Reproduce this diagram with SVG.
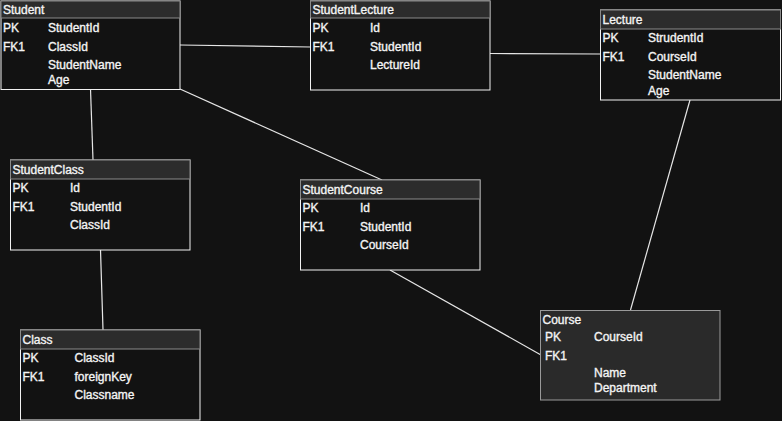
<svg xmlns="http://www.w3.org/2000/svg" width="782" height="421" viewBox="0 0 782 421">
<style>
.body{fill:#121212;stroke:#f2f2f2;stroke-width:1}
.hdr{fill:#2c2c2c;stroke:#8a8a8a;stroke-width:1}
.course{fill:#2a2a2a;stroke:#9a9a9a;stroke-width:1}
text{font-family:"Liberation Sans",Arial,sans-serif;font-size:12px;fill:#f4f4f4;stroke:#f4f4f4;stroke-width:0.35}
.conn line{stroke:#e6e6e6;stroke-width:1.2}
</style>
<rect width="782" height="421" fill="#121212"/>
<g class="conn" id="connectors">
<line x1="180" y1="45" x2="311" y2="47"/>
<line x1="490" y1="53.5" x2="601" y2="54"/>
<line x1="90.5" y1="89" x2="93" y2="160"/>
<line x1="180" y1="89" x2="382" y2="180"/>
<line x1="100.5" y1="250" x2="103" y2="330"/>
<line x1="390" y1="270" x2="541" y2="355"/>
<line x1="690" y1="100" x2="630.5" y2="310"/>
</g>
<g id="Student">
<rect class="body" x="1" y="1" width="179" height="88.5"/>
<rect class="hdr" x="1" y="1" width="179" height="17"/>
<text x="3" y="14">Student</text>
<text x="3" y="32">PK</text><text x="48" y="32">StudentId</text>
<text x="3" y="51">FK1</text><text x="48" y="51">ClassId</text>
<text x="48" y="69">StudentName</text>
<text x="48" y="84">Age</text>
</g>
<g id="StudentLecture">
<rect class="body" x="310.5" y="1" width="179.5" height="89"/>
<rect class="hdr" x="310.5" y="1" width="179.5" height="17"/>
<text x="312.5" y="14">StudentLecture</text>
<text x="312.5" y="32">PK</text><text x="370" y="32">Id</text>
<text x="312.5" y="51">FK1</text><text x="370" y="51">StudentId</text>
<text x="370" y="69">LectureId</text>
</g>
<g id="Lecture">
<rect class="body" x="600.5" y="10" width="180" height="90"/>
<rect class="hdr" x="600.5" y="10" width="180" height="19"/>
<text x="602.5" y="24">Lecture</text>
<text x="602.5" y="42">PK</text><text x="648" y="42">StrudentId</text>
<text x="602.5" y="61">FK1</text><text x="648" y="61">CourseId</text>
<text x="648" y="79">StudentName</text>
<text x="648" y="94.5">Age</text>
</g>
<g id="StudentClass">
<rect class="body" x="10.5" y="160" width="179.5" height="90"/>
<rect class="hdr" x="10.5" y="160" width="179.5" height="19"/>
<text x="12.5" y="174">StudentClass</text>
<text x="12.5" y="192">PK</text><text x="70" y="192">Id</text>
<text x="12.5" y="211">FK1</text><text x="70" y="211">StudentId</text>
<text x="70" y="229">ClassId</text>
</g>
<g id="StudentCourse">
<rect class="body" x="300.5" y="180" width="179.5" height="90"/>
<rect class="hdr" x="300.5" y="180" width="179.5" height="19"/>
<text x="302.5" y="194">StudentCourse</text>
<text x="302.5" y="212">PK</text><text x="360" y="212">Id</text>
<text x="302.5" y="231">FK1</text><text x="360" y="231">StudentId</text>
<text x="360" y="249">CourseId</text>
</g>
<g id="Class">
<rect class="body" x="20.5" y="330" width="179.5" height="90"/>
<rect class="hdr" x="20.5" y="330" width="179.5" height="19"/>
<text x="22.5" y="344">Class</text>
<text x="22.5" y="362">PK</text><text x="74.5" y="362">ClassId</text>
<text x="22.5" y="381">FK1</text><text x="74.5" y="381">foreignKey</text>
<text x="74.5" y="399">Classname</text>
</g>
<g id="Course">
<rect class="course" x="540.5" y="310.5" width="179.5" height="89.5"/>
<text x="542.5" y="324">Course</text>
<text x="545" y="341">PK</text><text x="594" y="341">CourseId</text>
<text x="545" y="360">FK1</text>
<text x="594" y="377">Name</text>
<text x="594" y="392">Department</text>
</g>
</svg>
